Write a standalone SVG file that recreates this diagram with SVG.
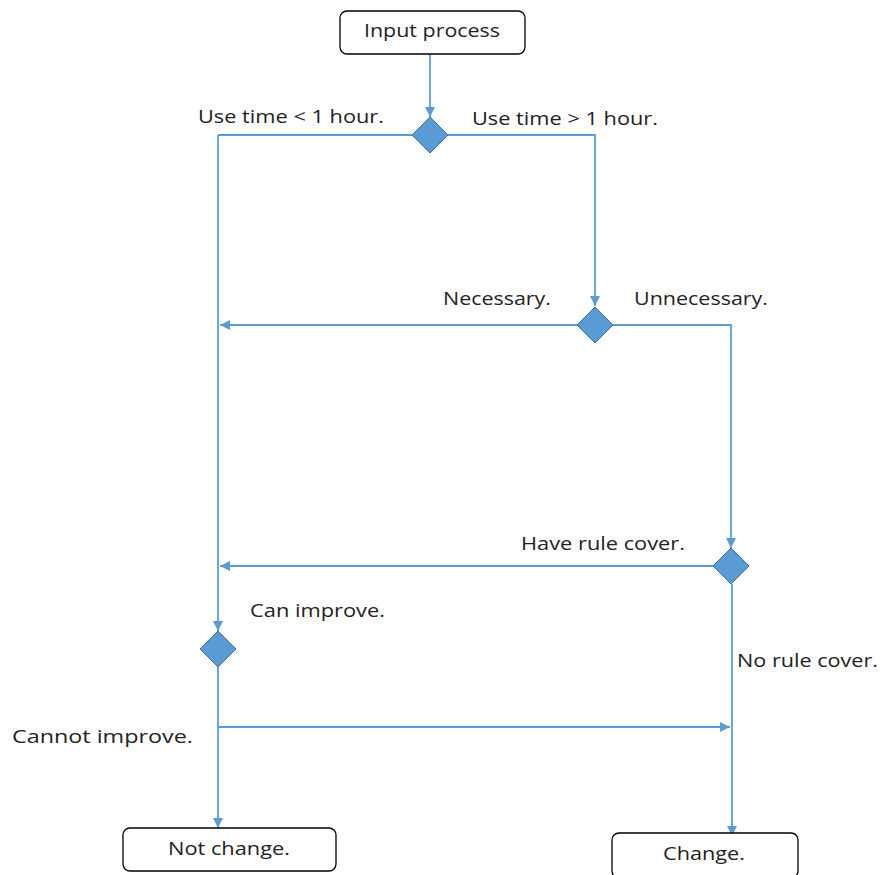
<svg xmlns="http://www.w3.org/2000/svg" width="883" height="875" viewBox="0 0 883 875">
<defs>
<marker id="ah" viewBox="0 0 10 10" refX="10" refY="5" markerWidth="10" markerHeight="10" markerUnits="userSpaceOnUse" orient="auto">
<path d="M0,0 L10,5 L0,10 z" fill="#5B9BD5"/>
</marker>
</defs>
<style>
.box{fill:#fff;stroke:#000;stroke-width:1.3}
.dia{fill:#5B9BD5;stroke:#41719C;stroke-width:1}
.ln{fill:none;stroke:#5B9BD5;stroke-width:1.8}
.arr{marker-end:url(#ah)}
text{font-family:"Open Sans","Liberation Sans",Arial,sans-serif;font-size:19px;fill:#222}
.c{text-anchor:middle}
</style>
<rect width="883" height="875" fill="#fff"/>
<g id="connectors">
<path class="ln arr" d="M430,54 V117"/>
<path class="ln" d="M413,135 H218"/>
<path class="ln arr" d="M218,135 V631"/>
<path class="ln arr" d="M448,135 H595 V306"/>
<path class="ln arr" d="M578,325 H220"/>
<path class="ln arr" d="M613,325 H731 V548"/>
<path class="ln arr" d="M713,566 H220"/>
<path class="ln arr" d="M732,584 V836"/>
<path class="ln arr" d="M218,667 V828"/>
<path class="ln arr" d="M218,727 H730"/>
</g>
<g id="input">
<rect class="box" x="340" y="11" width="185" height="43" rx="7"/>
<text x="364" y="37" textLength="136" lengthAdjust="spacingAndGlyphs">Input process</text>
</g>
<g id="d1"><path class="dia" d="M430,117 L448,135 L430,153 L412,135 z"/></g>
<g id="d2"><path class="dia" d="M595,307 L613,325 L595,343 L577,325 z"/></g>
<g id="d3"><path class="dia" d="M731,548 L749,566 L731,584 L713,566 z"/></g>
<g id="d4"><path class="dia" d="M218,631 L236,649 L218,667 L200,649 z"/></g>
<g id="notchange">
<rect class="box" x="123" y="828" width="213" height="43" rx="7"/>
<text x="168" y="855" textLength="122" lengthAdjust="spacingAndGlyphs">Not change.</text>
</g>
<g id="change">
<rect class="box" x="612" y="833" width="186" height="45" rx="7"/>
<text x="663" y="860" textLength="82" lengthAdjust="spacingAndGlyphs">Change.</text>
</g>
<g id="labels">
<text x="198" y="123" textLength="186" lengthAdjust="spacingAndGlyphs">Use time &lt; 1 hour.</text>
<text x="472" y="125" textLength="186" lengthAdjust="spacingAndGlyphs">Use time &gt; 1 hour.</text>
<text x="443" y="305" textLength="108" lengthAdjust="spacingAndGlyphs">Necessary.</text>
<text x="634" y="305" textLength="134" lengthAdjust="spacingAndGlyphs">Unnecessary.</text>
<text x="521" y="550" textLength="164" lengthAdjust="spacingAndGlyphs">Have rule cover.</text>
<text x="250" y="617" textLength="135" lengthAdjust="spacingAndGlyphs">Can improve.</text>
<text x="737" y="667" textLength="141" lengthAdjust="spacingAndGlyphs">No rule cover.</text>
<text x="12" y="743" textLength="181" lengthAdjust="spacingAndGlyphs">Cannot improve.</text>
</g>
</svg>
